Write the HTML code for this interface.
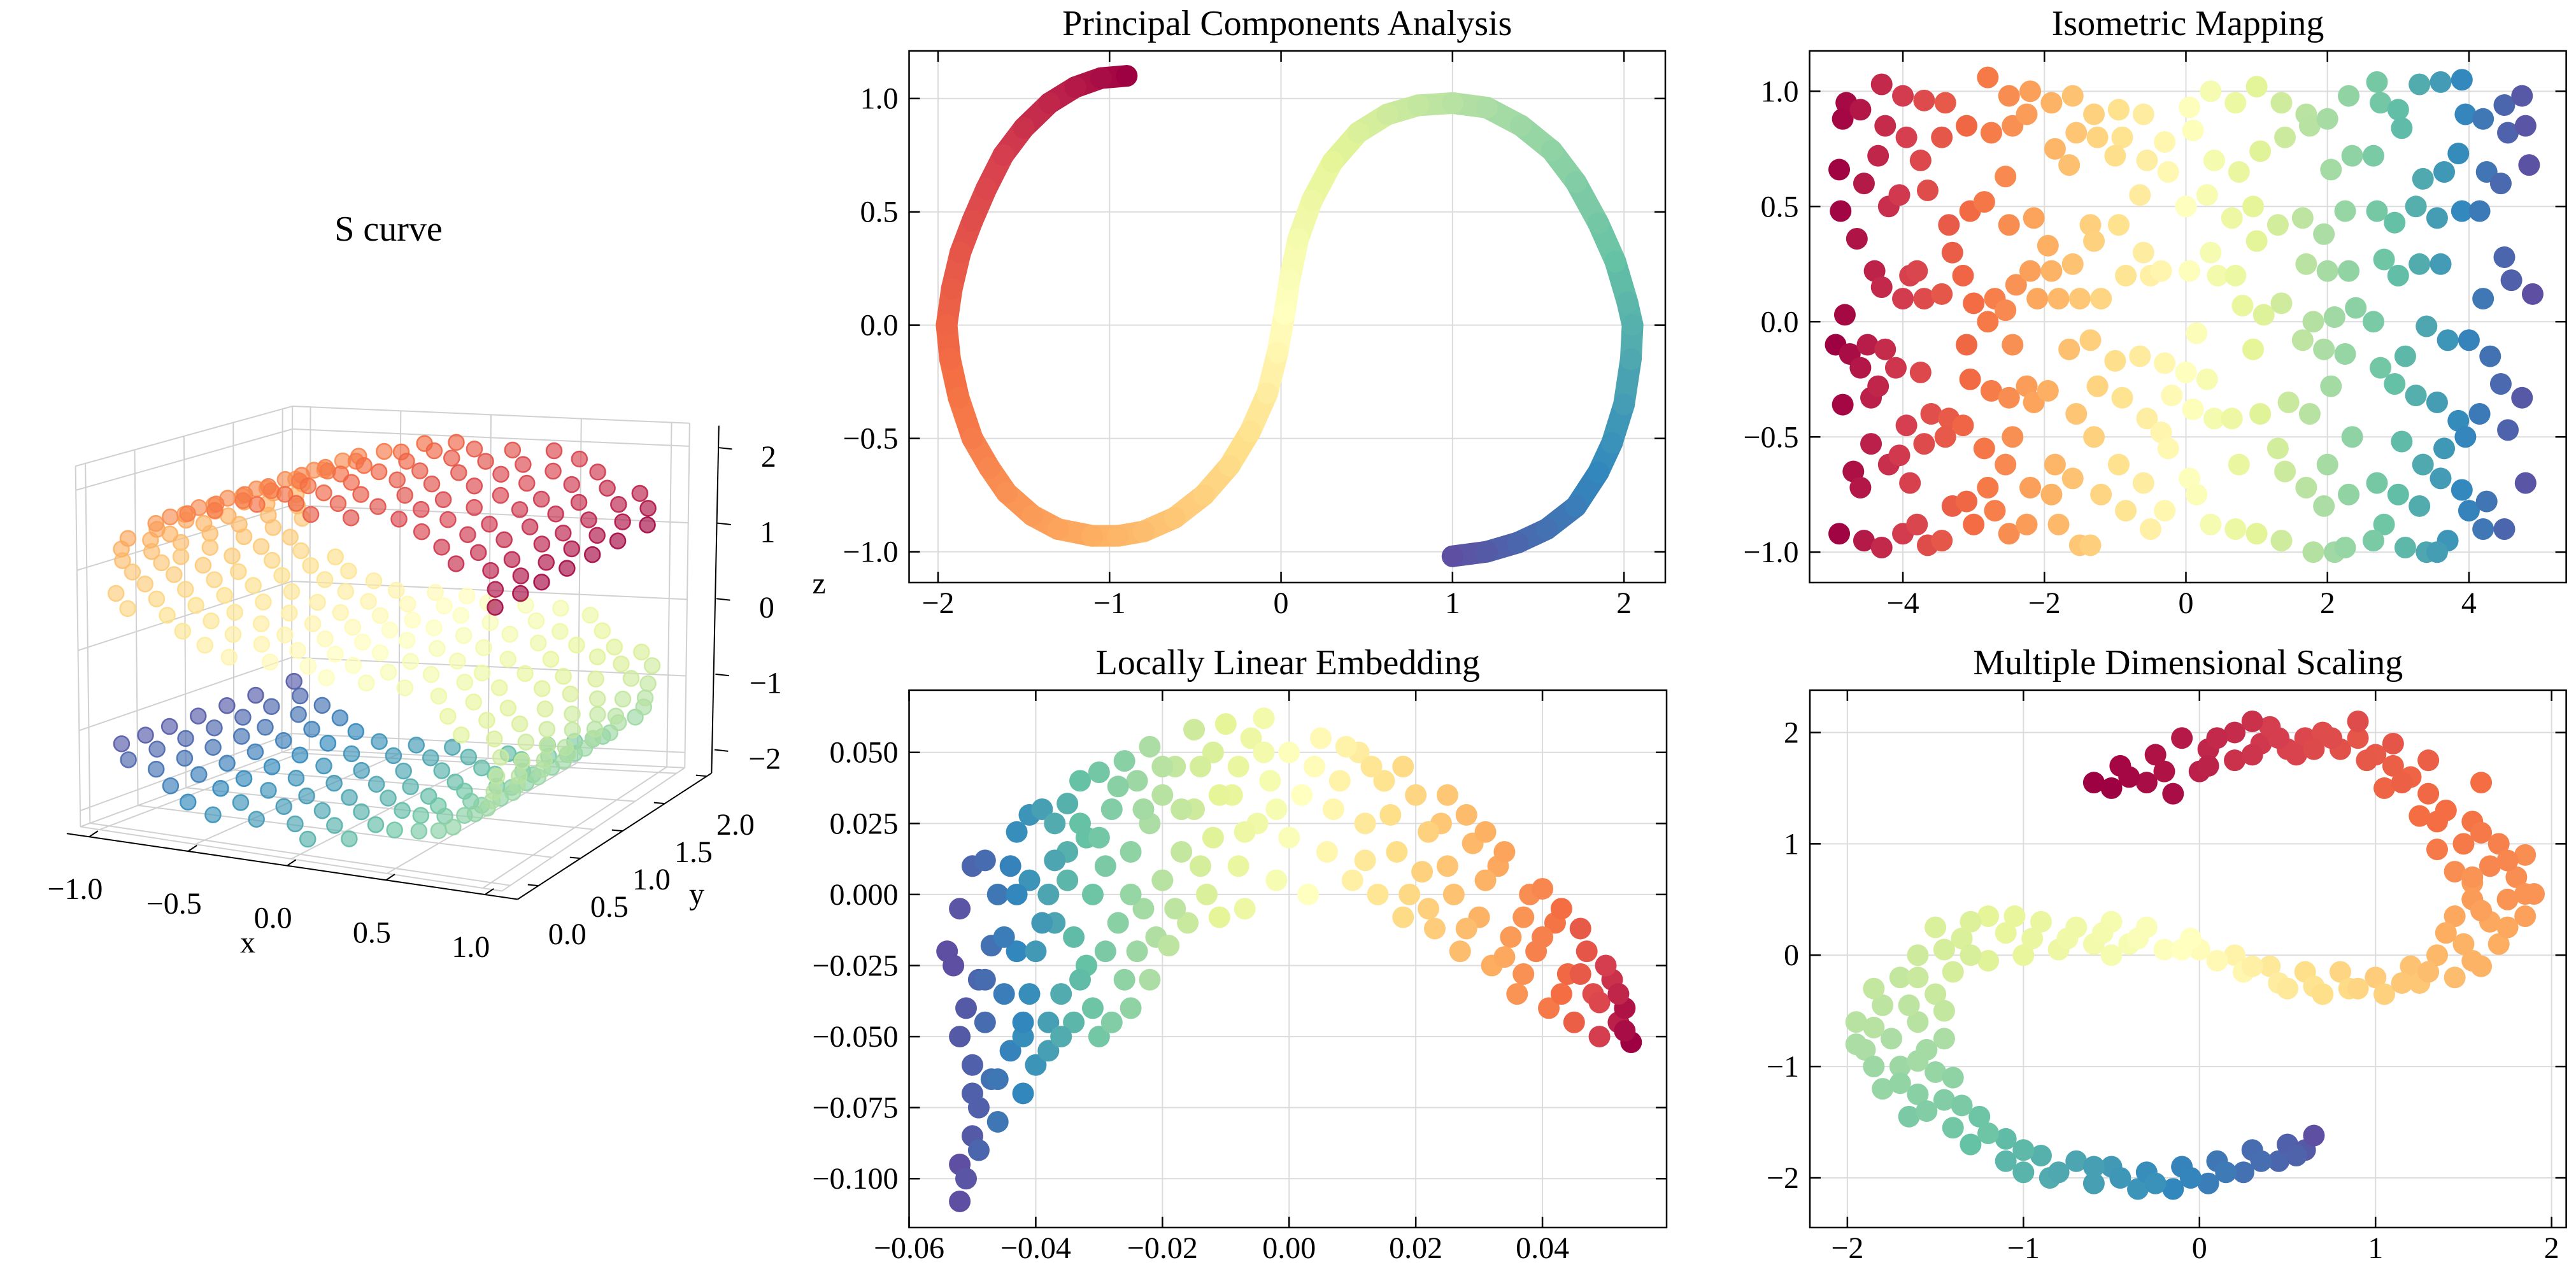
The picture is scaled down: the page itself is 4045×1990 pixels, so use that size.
<!DOCTYPE html>
<html><head><meta charset="utf-8"><style>
html,body{margin:0;padding:0;background:#fff;}
svg{display:block;}
text{font-family:"Liberation Serif",serif;fill:#000;}
</style></head><body>
<svg id="fig" width="4045" height="1990" viewBox="0 0 4045 1990" xmlns="http://www.w3.org/2000/svg"></svg>
<script>
// ---------- DATA ----------
const pcaX=[-0.9,-1.05,-1.2,-1.35,-1.5,-1.62,-1.72,-1.8,-1.87,-1.92,-1.95,-1.93,-1.88,-1.8,-1.7,-1.6,-1.45,-1.3,-1.1,-0.95,-0.8,-0.62,-0.45,-0.3,-0.18,-0.08,-0.02,0.02,0.05,0.1,0.18,0.3,0.45,0.62,0.8,1.0,1.2,1.4,1.58,1.72,1.85,1.95,2.02,2.05,2.04,2.0,1.93,1.85,1.72,1.55,1.38,1.2,1.0];
const pcaY=[1.1,1.09,1.05,0.98,0.87,0.75,0.6,0.46,0.32,0.16,0,-0.15,-0.32,-0.5,-0.63,-0.74,-0.84,-0.9,-0.93,-0.93,-0.91,-0.85,-0.75,-0.62,-0.47,-0.3,-0.12,0.05,0.2,0.38,0.55,0.72,0.85,0.93,0.97,0.98,0.96,0.88,0.77,0.63,0.45,0.28,0.1,0,-0.15,-0.35,-0.52,-0.65,-0.8,-0.9,-0.96,-1.0,-1.02];
const pcaC=[0,0.02,0.04,0.06,0.08,0.1,0.12,0.135,0.15,0.165,0.18,0.195,0.21,0.225,0.24,0.255,0.27,0.285,0.3,0.315,0.33,0.35,0.37,0.39,0.41,0.44,0.47,0.5,0.52,0.545,0.57,0.6,0.62,0.64,0.66,0.68,0.7,0.72,0.74,0.76,0.78,0.8,0.82,0.83,0.845,0.865,0.885,0.9,0.92,0.94,0.96,0.98,1];

const isoX=[-4.8,-4.85,-4.9,-4.88,-4.82,-4.95,-4.75,-4.85,-4.9,
-4.6,-4.55,-4.65,-4.5,-4.6,-4.45,-4.7,-4.6,-4.55,
-4.3,-4.25,-4.35,-4.2,-4.4,-4.3,-4.25,-4.35,-4.45,-4.2,-4.3,
-4.0,-3.95,-4.05,-3.9,-4.0,-4.1,-3.95,-4.05,-3.9,-4.0,
-3.7,-3.75,-3.65,-3.8,-3.7,-3.75,-3.6,-3.7,-3.8,-3.65,
-3.4,-3.45,-3.35,-3.3,-3.45,-3.35,-3.4,-3.3,-3.45,
-3.1,-3.05,-3.15,-3.0,-3.1,-3.05,-3.15,-3.1,-3.0,
-2.8,-2.75,-2.85,-2.7,-2.8,-2.75,-2.85,-2.8,-2.7,
-2.5,-2.45,-2.55,-2.5,-2.4,-2.55,-2.45,-2.5,-2.45,-2.55,-2.5,
-2.2,-2.25,-2.15,-2.2,-2.1,-2.25,-2.15,-2.2,-2.25,
-1.9,-1.85,-1.95,-1.9,-1.8,-1.95,-1.85,-1.9,-1.8,
-1.6,-1.55,-1.65,-1.6,-1.5,-1.65,-1.55,-1.6,-1.5,
-1.3,-1.25,-1.35,-1.3,-1.2,-1.35,-1.25,-1.3,-1.2,-1.35,
-0.95,-0.9,-1.0,-0.95,-0.85,-1.0,-0.9,-0.95,-0.85,
-0.6,-0.55,-0.65,-0.6,-0.5,-0.65,-0.55,-0.6,-0.5,
-0.3,-0.25,-0.35,-0.3,-0.2,-0.35,-0.25,-0.3,
0.05,0.1,0.0,0.05,0.15,0.0,0.1,0.05,0.15,
0.35,0.4,0.3,0.35,0.45,0.3,0.4,0.35,
0.7,0.75,0.65,0.7,0.8,0.65,0.75,0.7,
1.0,1.05,0.95,1.0,1.1,0.95,1.05,1.0,
1.35,1.4,1.3,1.35,1.45,1.3,1.4,1.35,
1.7,1.75,1.65,1.7,1.8,1.65,1.75,1.7,1.8,
2.0,2.05,1.95,2.0,2.1,1.95,2.05,2.0,1.95,2.1,
2.3,2.35,2.25,2.3,2.4,2.25,2.35,2.3,2.25,
2.7,2.75,2.65,2.7,2.8,2.65,2.75,2.7,2.8,2.65,
3.0,3.05,2.95,3.0,3.1,2.95,3.05,3.0,3.1,
3.3,3.35,3.25,3.3,3.4,3.25,3.35,3.3,3.4,
3.6,3.65,3.55,3.6,3.7,3.55,3.65,3.6,3.7,3.55,
3.9,3.95,3.85,3.9,4.0,3.85,3.95,3.9,4.0,
4.2,4.25,4.15,4.2,4.3,4.15,4.25,4.2,
4.5,4.55,4.45,4.5,4.6,4.45,4.55,4.5,
4.75,4.8,4.85,4.9,4.75,4.8];
const isoY=[0.95,0.88,0.66,0.48,0.03,-0.1,-0.14,-0.36,-0.92,
0.92,0.6,0.36,-0.1,-0.2,-0.33,-0.65,-0.72,-0.95,
1.03,0.85,0.72,0.5,0.22,0.15,-0.12,-0.28,-0.53,-0.62,-0.98,
0.98,0.8,0.55,0.2,0.1,-0.2,-0.45,-0.58,-0.7,-0.92,
0.96,0.7,0.57,0.22,0.1,-0.22,-0.4,-0.53,-0.88,-0.97,
0.95,0.8,0.42,0.3,0.12,-0.42,-0.5,-0.8,-0.95,
0.85,0.48,0.2,0.08,-0.1,-0.25,-0.45,-0.78,-0.88,
1.06,0.82,0.52,0.1,0.0,-0.3,-0.55,-0.72,-0.82,
0.98,0.85,0.63,0.42,0.16,0.05,-0.1,-0.33,-0.5,-0.62,-0.92,
1.0,0.9,0.45,0.22,0.1,-0.28,-0.35,-0.72,-0.88,
0.95,0.75,0.33,0.22,0.1,-0.3,-0.62,-0.75,-0.88,
0.98,0.82,0.68,0.25,0.1,-0.12,-0.4,-0.68,-0.97,
0.9,0.8,0.42,0.35,0.1,-0.08,-0.28,-0.5,-0.75,-0.97,
0.92,0.8,0.72,0.42,0.2,-0.17,-0.33,-0.62,-0.82,
0.9,0.7,0.55,0.3,0.2,-0.15,-0.42,-0.7,-0.9,
0.78,0.65,0.22,-0.18,-0.32,-0.48,-0.55,-0.82,
0.93,0.83,0.5,0.22,-0.05,-0.22,-0.38,-0.68,-0.75,
1.0,0.7,0.55,0.3,0.2,-0.25,-0.42,-0.88,
0.95,0.65,0.45,0.2,0.07,-0.42,-0.62,-0.9,
1.02,0.74,0.5,0.35,0.03,-0.12,-0.4,-0.92,
0.95,0.8,0.42,0.08,-0.35,-0.55,-0.65,-0.95,
0.9,0.85,0.45,0.25,0.0,-0.08,-0.4,-0.72,-1.0,
0.88,0.66,0.38,0.22,0.02,-0.12,-0.28,-0.62,-0.8,-1.0,
0.98,0.72,0.48,0.22,0.06,-0.14,-0.5,-0.75,-0.98,
1.04,0.95,0.72,0.48,0.27,0.0,-0.2,-0.7,-0.88,-0.95,
0.92,0.84,0.43,0.2,-0.15,-0.27,-0.52,-0.75,-0.98,
1.03,0.62,0.5,0.25,-0.02,-0.32,-0.62,-0.8,-1.0,
1.04,0.65,0.45,0.25,-0.08,-0.35,-0.55,-0.68,-0.95,-1.0,
1.05,0.9,0.73,0.48,-0.08,-0.43,-0.5,-0.73,-0.82,
0.88,0.65,0.48,0.1,-0.15,-0.4,-0.78,-0.9,
0.94,0.82,0.6,0.28,0.18,-0.27,-0.47,-0.9,
0.98,0.85,0.68,0.12,-0.33,-0.7];

const lleX=[-0.054,-0.053,-0.052,-0.052,-0.051,-0.052,-0.051,-0.052,-0.05,-0.049,-0.05,-0.049,-0.05,-0.048,-0.048,-0.047,-0.049,-0.047,-0.046,-0.046,
-0.045,-0.044,-0.044,-0.043,-0.043,-0.042,-0.042,-0.041,-0.041,-0.04,-0.04,-0.039,-0.038,-0.038,-0.037,-0.037,-0.036,-0.035,-0.035,-0.034,-0.034,-0.033,-0.032,-0.032,-0.031,-0.031,-0.03,-0.029,-0.029,-0.028,-0.027,-0.026,-0.026,-0.025,-0.024,-0.024,-0.023,-0.022,-0.022,-0.021,-0.02,-0.02,-0.019,-0.018,-0.017,-0.016,-0.015,-0.015,-0.013,-0.012,-0.012,-0.011,-0.01,-0.009,-0.008,-0.007,-0.006,-0.005,-0.004,-0.003,-0.002,0.0,0.0,0.002,0.003,0.005,0.006,0.008,0.01,0.011,0.012,0.014,0.015,0.017,0.018,0.02,0.021,0.023,0.024,0.026,0.027,0.029,0.03,0.032,0.033,0.035,0.036,0.038,0.039,0.041,0.042,0.044,0.045,0.047,0.048,0.049,0.051,0.052,0.053,0.054,
0.004,0.007,0.009,0.012,0.013,0.016,0.018,0.019,0.022,0.022,0.025,0.025,0.028,0.028,0.031,0.031,0.034,0.034,0.037,0.037,0.04,0.04,0.043,0.043,0.046,0.046,0.049,0.05,0.052,0.053,
-0.038,-0.036,-0.035,-0.033,-0.033,-0.03,-0.03,-0.028,-0.027,-0.025,-0.025,-0.023,-0.022,-0.02,-0.018,-0.017,-0.014,-0.014,-0.011,-0.008,-0.007,-0.004,-0.002,-0.043,-0.045,-0.046,-0.048,-0.05,-0.041,-0.039,-0.042,-0.037];
const lleY=[-0.02,-0.025,-0.005,-0.05,-0.04,-0.095,-0.1,-0.108,-0.085,-0.075,-0.06,-0.03,0.01,0.012,-0.045,-0.065,-0.09,-0.018,0.0,-0.08,
-0.035,-0.055,0.01,-0.02,0.022,-0.07,-0.05,0.005,0.028,-0.06,-0.02,0.03,-0.045,0.0,-0.01,0.025,-0.035,0.032,0.005,-0.045,-0.015,0.04,0.02,-0.025,0.0,-0.04,0.043,0.01,-0.02,0.03,-0.01,0.047,-0.03,0.015,0.04,-0.02,-0.005,0.052,0.025,-0.015,0.035,0.005,-0.018,0.045,0.015,-0.01,0.058,0.03,0.0,0.05,0.02,-0.008,0.06,0.035,0.01,-0.005,0.055,0.025,0.062,0.04,0.005,0.02,0.05,0.035,0.0,0.055,0.015,0.04,0.005,0.05,0.025,0.0,0.04,0.015,-0.008,0.035,0.008,-0.012,0.025,0.0,-0.02,0.018,-0.008,-0.025,0.01,-0.015,-0.035,0.0,-0.02,-0.04,-0.01,-0.028,-0.045,-0.02,-0.035,-0.05,-0.03,-0.045,-0.04,-0.052,
0.045,0.03,0.052,0.012,0.045,0.028,0.045,0.0,0.022,-0.005,0.035,0.01,-0.012,0.028,0.005,0.022,-0.022,0.015,-0.008,-0.028,0.002,-0.015,-0.035,-0.005,-0.028,-0.012,-0.038,-0.025,-0.035,-0.048,
-0.055,-0.05,0.015,-0.03,0.025,-0.05,0.02,-0.045,0.038,-0.04,0.0,0.03,-0.03,0.045,-0.005,0.03,0.045,0.01,0.035,0.045,0.022,0.05,0.03,0.0,-0.015,-0.065,-0.03,-0.07,-0.035,-0.01,-0.045,0.012];
const lleC=[1,1,0.99,0.98,0.98,1,0.99,1,0.98,0.97,0.97,0.96,0.96,0.95,0.95,0.94,0.96,0.94,0.93,0.93,
0.92,0.91,0.91,0.9,0.89,0.9,0.89,0.88,0.88,0.88,0.87,0.86,0.86,0.85,0.85,0.84,0.84,0.83,0.82,0.82,0.81,0.8,0.8,0.8,0.79,0.79,0.78,0.77,0.77,0.76,0.75,0.75,0.74,0.74,0.72,0.72,0.71,0.7,0.7,0.69,0.68,0.68,0.67,0.66,0.66,0.65,0.64,0.64,0.62,0.62,0.61,0.6,0.6,0.59,0.58,0.57,0.57,0.56,0.55,0.54,0.53,0.52,0.51,0.5,0.5,0.48,0.47,0.46,0.45,0.44,0.43,0.42,0.41,0.4,0.39,0.38,0.37,0.36,0.35,0.34,0.33,0.32,0.31,0.3,0.29,0.27,0.26,0.25,0.23,0.22,0.21,0.19,0.17,0.15,0.13,0.1,0.08,0.05,0.03,0.0,
0.49,0.47,0.46,0.43,0.42,0.4,0.39,0.385,0.37,0.365,0.35,0.345,0.33,0.325,0.31,0.305,0.29,0.285,0.26,0.255,0.24,0.23,0.2,0.2,0.16,0.16,0.12,0.1,0.06,0.02,
0.86,0.84,0.83,0.81,0.8,0.78,0.78,0.76,0.75,0.74,0.73,0.71,0.7,0.68,0.67,0.66,0.63,0.63,0.6,0.58,0.57,0.55,0.53,0.9,0.92,0.93,0.95,0.97,0.89,0.87,0.9,0.85];

const mdsX=[-0.6,-0.45,-0.3,-0.25,-0.15,-0.1,0,0.05,0.2,0.2,0.35,0.4,0.5,0.6,0.7,0.8,0.9,1.0,1.1,1.2,1.05,1.3,1.4,1.25,1.55,1.5,1.35,1.7,1.65,1.45,1.8,1.75,1.55,1.85,1.65,1.45,1.7,1.5,1.6,1.35,1.45,1.2,1.25,1.0,1.05,0.8,0.85,0.6,0.65,0.4,0.45,0.2,0.25,0,-0.05,-0.2,-0.3,-0.4,-0.5,-0.6,-0.7,-0.8,-0.9,-1.0,-1.1,-1.2,-1.2,-1.35,-1.4,-1.5,-1.6,-1.5,-1.7,-1.8,-1.6,-1.95,-1.75,-1.55,-1.9,-1.7,-1.5,-1.8,-1.6,-1.45,-1.65,-1.4,-1.25,-1.3,-1.1,-1.1,-0.9,-0.85,-0.7,-0.6,-0.5,-0.35,-0.3,-0.15,-0.1,0.05,0.1,0.25,0.3,0.45,0.5,0.6,0.65,
1.6,1.85,1.3,1.1,0.9,0.3,0.55,1.9,1.55,-0.5,
0.1,0.3,0.45,0.65,0.75,0.95,1.15,1.35,1.6,1.75,1.55,1.85,1.6,1.75,1.4,1.55,1.3,1.15,0.9,0.7,0.5,0.3,0.1,-0.1,-0.35,-0.55,-0.75,-0.95,-1.05,-1.3,-1.3,-1.45,-1.6,-1.85,-1.45,-1.65,-1.85,-1.45,-1.95,-1.6,-1.85,-1.4,-1.7,-1.55,-1.35,-1.2,-1.0,-1.0,-0.8,-0.6,-0.45,-0.25,-0.05,0.15,0.35,0.55,-0.4,-0.2,0.05,-0.5];
const mdsY=[1.55,1.7,1.55,1.8,1.45,1.95,1.65,1.85,2.0,1.75,1.9,2.05,1.85,1.95,2.0,1.85,1.95,1.8,1.7,1.6,1.5,1.45,1.3,1.25,1.2,1.0,0.95,1.0,0.8,0.75,0.7,0.5,0.5,0.35,0.3,0.35,0.1,0.1,-0.1,0.0,-0.2,-0.1,-0.25,-0.2,-0.35,-0.15,-0.3,-0.15,-0.28,-0.1,-0.25,0.0,-0.15,0.05,0.15,0.05,0.25,0.1,0.3,0.1,0.25,0.05,0.3,0.0,0.2,0.35,-0.05,0.15,-0.15,0.25,0.0,-0.35,-0.2,-0.45,-0.6,-0.6,-0.75,-0.85,-0.85,-1.0,-1.05,-1.2,-1.25,-1.3,-1.45,-1.55,-1.45,-1.7,-1.65,-1.85,-1.8,-2.0,-1.85,-2.05,-1.9,-2.1,-1.95,-2.1,-1.9,-2.05,-1.85,-1.95,-1.75,-1.85,-1.7,-1.75,-1.62,
1.55,0.9,1.75,1.9,2.1,2.1,1.8,0.55,0.65,0.0,
1.95,1.8,1.95,1.85,1.95,1.75,1.55,1.2,1.1,0.85,0.7,0.55,0.4,0.25,0.2,-0.05,-0.15,-0.25,-0.3,-0.35,-0.3,-0.1,-0.05,0.05,0.15,0.2,0.15,0.15,0.35,0.3,0.0,0.05,-0.2,-0.3,-0.5,-0.45,-0.65,-0.75,-0.8,-0.95,-1.0,-1.1,-1.15,-1.4,-1.35,-1.6,-1.75,-1.95,-1.95,-1.9,-2.0,-2.05,-2.0,-1.95,-1.85,-1.8,1.6,1.65,1.7,1.5];
const mdsC=[0,0.01,0.02,0.03,0.02,0.04,0.05,0.06,0.07,0.08,0.09,0.1,0.11,0.12,0.13,0.14,0.15,0.16,0.17,0.18,0.18,0.19,0.2,0.2,0.21,0.22,0.22,0.23,0.24,0.25,0.25,0.26,0.27,0.28,0.29,0.29,0.3,0.31,0.31,0.32,0.33,0.34,0.35,0.36,0.37,0.38,0.39,0.4,0.41,0.43,0.44,0.46,0.47,0.49,0.5,0.51,0.52,0.53,0.54,0.55,0.56,0.57,0.58,0.59,0.59,0.6,0.61,0.62,0.63,0.62,0.64,0.65,0.66,0.67,0.68,0.68,0.7,0.71,0.7,0.72,0.73,0.73,0.75,0.76,0.77,0.78,0.79,0.8,0.81,0.82,0.83,0.84,0.85,0.86,0.87,0.88,0.89,0.9,0.91,0.92,0.93,0.94,0.95,0.96,0.97,0.98,1.0,
0.2,0.25,0.17,0.15,0.13,0.08,0.11,0.26,0.27,0.54,
0.065,0.085,0.1,0.125,0.13,0.155,0.175,0.2,0.22,0.24,0.26,0.26,0.28,0.29,0.3,0.31,0.33,0.35,0.38,0.4,0.43,0.45,0.48,0.5,0.52,0.545,0.56,0.58,0.59,0.615,0.625,0.63,0.65,0.66,0.66,0.67,0.68,0.7,0.7,0.71,0.72,0.74,0.735,0.76,0.77,0.79,0.815,0.825,0.845,0.86,0.875,0.885,0.905,0.925,0.945,0.965,0.01,0.03,0.055,0.0];

const sX=[0.99,0.9,0.69,0.4,0.06,-0.29,-0.6,-0.84,-0.97,-0.99,-0.89,-0.68,-0.39,-0.05,0.3,0.61,0.84,0.98,0.99,0.89,0.68,0.38,0.04,-0.3,-0.61,-0.85,-0.98,
0.96,0.8,0.55,0.23,-0.12,-0.45,-0.73,-0.92,-1.0,-0.96,-0.8,-0.54,-0.22,0.12,0.46,0.73,0.92,1.0,0.95,0.79,0.54,0.22,-0.13,-0.47,-0.74,-0.93];
const sZ=[1.11,1.45,1.73,1.92,2.0,1.96,1.8,1.55,1.23,0.88,0.55,0.27,0.08,0.0,-0.05,-0.2,-0.46,-0.78,-1.13,-1.46,-1.74,-1.92,-2.0,-1.95,-1.79,-1.53,-1.21,
1.28,1.6,1.84,1.97,1.99,1.89,1.69,1.39,1.05,0.71,0.4,0.16,0.03,-0.01,-0.11,-0.32,-0.61,-0.95,-1.3,-1.61,-1.84,-1.98,-1.99,-1.89,-1.67,-1.38];
const sC=[0.01,0.05,0.09,0.12,0.16,0.2,0.23,0.27,0.31,0.35,0.38,0.42,0.46,0.495,0.53,0.57,0.61,0.64,0.68,0.72,0.75,0.79,0.83,0.87,0.9,0.94,0.98,
0.03,0.07,0.11,0.14,0.18,0.22,0.25,0.29,0.33,0.36,0.4,0.44,0.48,0.51,0.55,0.59,0.62,0.66,0.7,0.74,0.77,0.81,0.85,0.88,0.92,0.96];
const sY=[[0.05,0.35,0.6,0.9,1.2,1.5,1.85],[0.2,0.45,0.8,1.05,1.35,1.7,1.95],[0.1,0.4,0.65,1.0,1.25,1.6,1.9],[0.25,0.5,0.75,1.1,1.4,1.65,2.0],[0.0,0.3,0.55,0.95,1.2,1.55,1.8],[0.15,0.45,0.7,1.05,1.3,1.7,1.95],
[0.05,0.35,0.65,0.9,1.25,1.5,1.85],[0.2,0.5,0.8,1.1,1.35,1.65,1.95],[0.1,0.4,0.6,0.95,1.2,1.6,1.9],[0.25,0.55,0.75,1.05,1.4,1.7,2.0],[0.0,0.3,0.6,0.9,1.15,1.5,1.8],[0.15,0.45,0.7,1.0,1.3,1.65,1.9],
[0.05,0.4,0.65,0.95,1.25,1.55,1.85],[0.2,0.5,0.8,1.1,1.35,1.7,1.95],[0.1,0.35,0.6,0.9,1.2,1.5,1.9],[0.25,0.55,0.75,1.05,1.4,1.65,2.0],[0.0,0.3,0.55,0.95,1.2,1.6,1.8],[0.15,0.45,0.7,1.0,1.3,1.7,1.95],
[0.05,0.35,0.65,0.9,1.25,1.5,1.85],[0.2,0.5,0.8,1.1,1.35,1.65,1.95],[0.1,0.4,0.6,0.95,1.2,1.6,1.9],[0.25,0.55,0.75,1.05,1.4,1.7,2.0],[0.0,0.3,0.6,0.9,1.15,1.5,1.8],[0.15,0.45,0.7,1.0,1.3,1.65,1.9],
[0.05,0.4,0.65,0.95,1.25,1.55,1.85],[0.2,0.5,0.8,1.1,1.35,1.7,1.95],[0.1,0.35,0.6,0.9,1.2,1.5,1.9],
[0.12,0.42,0.72,1.02,1.32,1.62,1.92],[0.02,0.28,0.58,0.88,1.18,1.45,1.78],[0.18,0.48,0.78,1.08,1.38,1.68,1.98],[0.08,0.38,0.68,0.98,1.28,1.58,1.88],[0.22,0.52,0.82,1.12,1.42,1.72,1.96],[0.03,0.33,0.63,0.93,1.23,1.53,1.83],
[0.13,0.43,0.73,1.03,1.33,1.63,1.93],[0.07,0.37,0.67,0.97,1.27,1.57,1.87],[0.17,0.47,0.77,1.07,1.37,1.67,1.97],[0.02,0.32,0.62,0.92,1.22,1.52,1.82],[0.23,0.53,0.83,1.13,1.43,1.73,1.99],[0.1,0.4,0.7,1.0,1.3,1.6,1.9],
[0.14,0.44,0.74,1.04,1.34,1.64,1.94],[0.04,0.34,0.64,0.94,1.24,1.54,1.84],[0.19,0.49,0.79,1.09,1.39,1.69,1.97],[0.09,0.39,0.69,0.99,1.29,1.59,1.89],[0.21,0.51,0.81,1.11,1.41,1.71,1.95],[0.06,0.36,0.66,0.96,1.26,1.56,1.86],
[0.12,0.42,0.72,1.02,1.32,1.62,1.92],[0.02,0.28,0.58,0.88,1.18,1.45,1.78],[0.18,0.48,0.78,1.08,1.38,1.68,1.98],[0.08,0.38,0.68,0.98,1.28,1.58,1.88],[0.22,0.52,0.82,1.12,1.42,1.72,1.96],[0.03,0.33,0.63,0.93,1.23,1.53,1.83],
[0.13,0.43,0.73,1.03,1.33,1.63,1.93],[0.07,0.37,0.67,0.97,1.27,1.57,1.87]];

const pcaXTicks=[-2,-1,0,1,2], pcaXLabels=["\u22122","\u22121","0","1","2"];
const pcaYTicks=[-1,-0.5,0,0.5,1], pcaYLabels=["\u22121.0","\u22120.5","0.0","0.5","1.0"];
const isoXTicks=[-4,-2,0,2,4], isoXLabels=["\u22124","\u22122","0","2","4"];
const isoYTicks=[-1,-0.5,0,0.5,1], isoYLabels=["\u22121.0","\u22120.5","0.0","0.5","1.0"];
const lleXTicks=[-0.06,-0.04,-0.02,0,0.02,0.04], lleXLabels=["\u22120.06","\u22120.04","\u22120.02","0.00","0.02","0.04"];
const lleYTicks=[-0.1,-0.075,-0.05,-0.025,0,0.025,0.05], lleYLabels=["\u22120.100","\u22120.075","\u22120.050","\u22120.025","0.000","0.025","0.050"];
const mdsXTicks=[-2,-1,0,1,2], mdsXLabels=["\u22122","\u22121","0","1","2"];
const mdsYTicks=[-2,-1,0,1,2], mdsYLabels=["\u22122","\u22121","0","1","2"];
const s3XTicks=[-1,-0.5,0,0.5,1], s3XLabels=["\u22121.0","\u22120.5","0.0","0.5","1.0"];
const s3YTicks=[0,0.5,1,1.5,2], s3YLabels=["0.0","0.5","1.0","1.5","2.0"];
const s3ZTicks=[-2,-1,0,1,2], s3ZLabels=["\u22122","\u22121","0","1","2"];

// ---------- RENDER ----------
const NS="http://www.w3.org/2000/svg";
const svg=document.getElementById('fig');
function mk(tag,parent){const e=document.createElementNS(NS,tag);parent.appendChild(e);return e;}
function at(e,o){for(const k in o)e.setAttribute(k,o[k]);return e;}
const SPEC=['#9e0142','#d53e4f','#f46d43','#fdae61','#fee08b','#ffffbf','#e6f598','#abdda4','#66c2a5','#3288bd','#5e4fa2'];
function hex(h){return [parseInt(h.substr(1,2),16),parseInt(h.substr(3,2),16),parseInt(h.substr(5,2),16)];}
function spectral(t){t=Math.max(0,Math.min(1,t));const p=t*10,i=Math.min(9,Math.floor(p)),f=p-i;const a=hex(SPEC[i]),b=hex(SPEC[i+1]);
 return 'rgb('+a.map((v,k)=>Math.round(v+(b[k]-v)*f)).join(',')+')';}

const bg=mk('rect',svg);at(bg,{x:0,y:0,width:4045,height:1990,fill:'#fff'});



function panel(cfg){
 const g=mk('g',svg);
 
 
 const sx=v=>cfg.L+(v-cfg.x0)/(cfg.x1-cfg.x0)*(cfg.R-cfg.L);
 const sy=v=>cfg.B-(v-cfg.y0)/(cfg.y1-cfg.y0)*(cfg.B-cfg.T);
 const grid=mk('g',g);
 
 
 cfg.xt.forEach(v=>{const l=mk('line',grid);at(l,{x1:sx(v),x2:sx(v),y1:cfg.T,y2:cfg.B,stroke:'#dcdcdc','stroke-width':2});});
 cfg.yt.forEach(v=>{const l=mk('line',grid);at(l,{x1:cfg.L,x2:cfg.R,y1:sy(v),y2:sy(v),stroke:'#dcdcdc','stroke-width':2});});
 const pts=mk('g',g);
 
 
 cfg.draw(pts,sx,sy);
 const box=mk('rect',g);at(box,{x:cfg.L,y:cfg.T,width:cfg.R-cfg.L,height:cfg.B-cfg.T,fill:'none',stroke:'#000','stroke-width':2.5});
 
 
 const tk=mk('g',g);
 
 
 const TL=17;
 cfg.xt.forEach((v,i)=>{const x=sx(v);
  at(mk('line',tk),{x1:x,x2:x,y1:cfg.B,y2:cfg.B-TL,stroke:'#000','stroke-width':2.5});
  at(mk('line',tk),{x1:x,x2:x,y1:cfg.T,y2:cfg.T+TL,stroke:'#000','stroke-width':2.5});
  const t=mk('text',tk);at(t,{x:x,y:cfg.B+48,'text-anchor':'middle','font-size':48});t.textContent=cfg.xl[i];
  
  });
 cfg.yt.forEach((v,i)=>{const y=sy(v);
  at(mk('line',tk),{x1:cfg.L,x2:cfg.L+TL,y1:y,y2:y,stroke:'#000','stroke-width':2.5});
  at(mk('line',tk),{x1:cfg.R,x2:cfg.R-TL,y1:y,y2:y,stroke:'#000','stroke-width':2.5});
  const t=mk('text',tk);at(t,{x:cfg.L-17,y:y+16,'text-anchor':'end','font-size':48});t.textContent=cfg.yl[i];
  
  });
 const ti=mk('text',g);at(ti,{x:(cfg.L+cfg.R)/2,y:cfg.T-25,'text-anchor':'middle','font-size':56});ti.textContent=cfg.title;
 
 
}
function dots(g,X,Y,C,sx,sy,r){
 X.forEach((x,i)=>{const c=mk('circle',g);at(c,{cx:sx(x),cy:sy(Y[i]),r:r,fill:spectral(C[i])});
  
  });
}

panel({name:'pca-panel',title:'Principal Components Analysis',L:1427.5,R:2615,T:80,B:915,x0:-2.169,x1:2.241,y0:-1.136,y1:1.21,
 xt:pcaXTicks,xl:pcaXLabels,yt:pcaYTicks,yl:pcaYLabels,
 draw:(g,sx,sy)=>{
  for(let i=0;i<pcaX.length-1;i++){const l=mk('line',g);
   at(l,{x1:sx(pcaX[i]),y1:sy(pcaY[i]),x2:sx(pcaX[i+1]),y2:sy(pcaY[i+1]),stroke:spectral((pcaC[i]+pcaC[i+1])/2),'stroke-width':34,'stroke-linecap':'round'});
   
   }
  dots(g,pcaX,pcaY,pcaC,sx,sy,17);
 }});
const isoMin=Math.min(...isoX), isoMax=Math.max(...isoX);
const isoC=isoX.map(v=>(v-isoMin)/(isoMax-isoMin));
panel({name:'isomap-panel',title:'Isometric Mapping',L:2841.5,R:4029.6,T:80,B:915,x0:-5.319,x1:5.374,y0:-1.132,y1:1.175,
 xt:isoXTicks,xl:isoXLabels,yt:isoYTicks,yl:isoYLabels,
 draw:(g,sx,sy)=>dots(g,isoX,isoY,isoC,sx,sy,17)});
panel({name:'lle-panel',title:'Locally Linear Embedding',L:1427.5,R:2617,T:1084,B:1928,x0:-0.06,x1:0.0596,y0:-0.1172,y1:0.0719,
 xt:lleXTicks,xl:lleXLabels,yt:lleYTicks,yl:lleYLabels,
 draw:(g,sx,sy)=>dots(g,lleX,lleY,lleC,sx,sy,17)});
panel({name:'mds-panel',title:'Multiple Dimensional Scaling',L:2842,R:4029.6,T:1084,B:1928,x0:-2.213,x1:2.083,y0:-2.446,y1:2.38,
 xt:mdsXTicks,xl:mdsXLabels,yt:mdsYTicks,yl:mdsYLabels,
 draw:(g,sx,sy)=>dots(g,mdsX,mdsY,mdsC,sx,sy,17)});

(function(){
 const g=mk('g',svg);
 
 
 const K=0.7653, OY=550;
 const Z=(p)=>[p[0]*K,p[1]*K+OY];
 const F00=Z([165,978]),F10=Z([1030,1110]),F11=Z([1405,857]),F01=Z([598,818]);
 const T00=Z([155,238]),T10=Z([1035,345]),T11=Z([1415,150]),T01=Z([600,115]);
 const xl=[-1.1,1.1],yl=[-0.1,2.1],zl=[-2.2,2.3];
 const lerp=(a,b,t)=>[a[0]+(b[0]-a[0])*t,a[1]+(b[1]-a[1])*t];
 function P(x,y,z){const fx=(x-xl[0])/(xl[1]-xl[0]),fy=(y-yl[0])/(yl[1]-yl[0]),fz=(z-zl[0])/(zl[1]-zl[0]);
  const b=lerp(lerp(F00,F10,fx),lerp(F01,F11,fx),fy);const t=lerp(lerp(T00,T10,fx),lerp(T01,T11,fx),fy);return lerp(b,t,fz);}
 const gr=mk('g',g);
 
 
 function ln(a,b,col,w){const l=mk('line',gr);at(l,{x1:a[0],y1:a[1],x2:b[0],y2:b[1],stroke:col,'stroke-width':w});}
 const GC='#d0d0d0';
 ln(P(xl[0],yl[0],zl[0]),P(xl[0],yl[1],zl[0]),GC,2);ln(P(xl[0],yl[1],zl[0]),P(xl[1],yl[1],zl[0]),GC,2);
 ln(P(xl[0],yl[1],zl[0]),P(xl[0],yl[1],zl[1]),GC,2);ln(P(xl[0],yl[0],zl[0]),P(xl[0],yl[0],zl[1]),GC,2);
 ln(P(xl[0],yl[0],zl[1]),P(xl[0],yl[1],zl[1]),GC,2);ln(P(xl[0],yl[1],zl[1]),P(xl[1],yl[1],zl[1]),GC,2);
 ln(P(xl[1],yl[1],zl[0]),P(xl[1],yl[1],zl[1]),GC,2);ln(P(xl[0],yl[0],zl[0]),P(xl[1],yl[0],zl[0]),GC,2);ln(P(xl[1],yl[0],zl[0]),P(xl[1],yl[1],zl[0]),GC,2);
 s3XTicks.forEach(v=>{ln(P(v,yl[0],zl[0]),P(v,yl[1],zl[0]),GC,2);ln(P(v,yl[1],zl[0]),P(v,yl[1],zl[1]),GC,2);});
 s3YTicks.forEach(v=>{ln(P(xl[0],v,zl[0]),P(xl[1],v,zl[0]),GC,2);ln(P(xl[0],v,zl[0]),P(xl[0],v,zl[1]),GC,2);});
 s3ZTicks.forEach(v=>{ln(P(xl[0],yl[0],v),P(xl[0],yl[1],v),GC,2);ln(P(xl[0],yl[1],v),P(xl[1],yl[1],v),GC,2);});
 const list=[];
 sX.forEach((x,i)=>sY[i].forEach(y=>list.push({x:x,y:y,z:sZ[i],c:sC[i]})));
 list.sort((a,b)=>(b.y-0.6*b.x)-(a.y-0.6*a.x));
 const pg=mk('g',g);
 
 
 list.forEach(p=>{const q=P(p.x,p.y,p.z);const col=spectral(p.c);const c=mk('circle',pg);
  at(c,{cx:q[0],cy:q[1],r:12,fill:col,'fill-opacity':0.65,stroke:col,'stroke-opacity':0.9,'stroke-width':2.5});
  
  });
 const ax=mk('g',g);
 
 
 function bl(a,b,w){const l=mk('line',ax);at(l,{x1:a[0],y1:a[1],x2:b[0],y2:b[1],stroke:'#000','stroke-width':w||2});}
 const XA0=[137,992],XA1=[1062,1127],YA1=[1460,868],ZA1=[1475,155];
 bl(Z(XA0),Z(XA1));bl(Z(XA1),Z(YA1));bl(Z(YA1),Z(ZA1));
 function txt(p,s,name){const t=mk('text',ax);at(t,{x:p[0],y:p[1]+16,'text-anchor':'middle','font-size':48});t.textContent=s;
  
  }
 s3XTicks.forEach((v,i)=>{const f=(v+1)/2;const zx=183+(995-183)*f, zy=992+(zx-137)*0.146;
  bl(Z([zx,zy]),Z([zx+18,zy-12]));txt(Z([zx-29,zy+107]),s3XLabels[i],'x-tick-label');});
 s3YTicks.forEach((v,i)=>{const f=v/2;const zx=1105+(1450-1105)*f, zy=1127-(zx-1062)*0.651;
  bl(Z([zx,zy]),Z([zx-22,zy-2]));txt(Z([zx+59,zy+99]),s3YLabels[i],'y-tick-label');});
 s3ZTicks.forEach((v,i)=>{const f=(v+2)/4;const zy=820-(820-200)*f, zx=1466+8*f;
  bl(Z([zx,zy]),Z([zx+28,zy+3]));txt(Z([zx+103,zy+18]),s3ZLabels[i],'z-tick-label');});
 txt([389,1480],'x','x-axis-title');txt([1094,1404],'y','y-axis-title');txt([1286,916],'z','z-axis-title');
 const ti=mk('text',g);at(ti,{x:610,y:378,'text-anchor':'middle','font-size':56});ti.textContent='S curve';
 
 
})();
</script>
</body></html>
